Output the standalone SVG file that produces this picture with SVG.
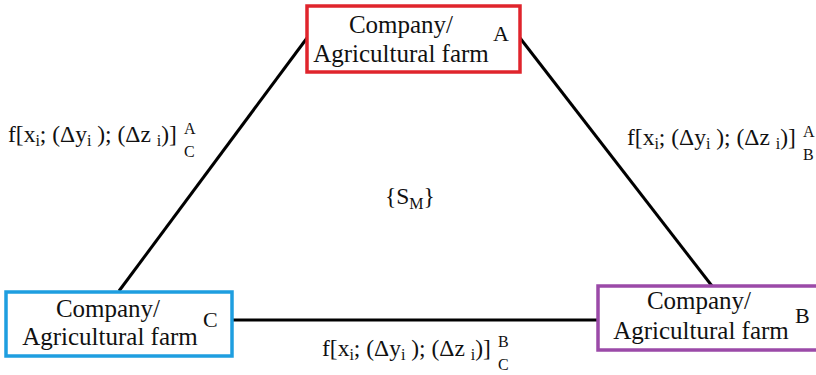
<svg xmlns="http://www.w3.org/2000/svg" width="816" height="375" viewBox="0 0 816 375">
<style>
text{fill:#111}
.n{font-size:25px}
.l{font-size:23.5px}
.lt{font-size:22px}
.s{font-size:16px}
.box{fill:#fff;stroke-width:3.5}
.e{stroke:#000;stroke-width:3;fill:none}
</style>
<rect width="816" height="375" fill="#fff"/>
<g id="connectors">
<line class="e" x1="307" y1="38" x2="119" y2="291"/>
<line class="e" x1="520" y1="38" x2="712" y2="286"/>
<line class="e" x1="232" y1="320" x2="598" y2="320"/>
</g>
<g font-family="'Times New Roman', 'Liberation Serif', 'DejaVu Serif', 'Noto Serif', serif">
<g id="nodeA">
<rect class="box" x="307" y="6" width="213" height="66" stroke="#e0242c"/>
<text class="n" x="401" y="33" text-anchor="middle">Company/</text>
<text class="n" x="401" y="62" text-anchor="middle">Agricultural farm</text>
<text class="lt" x="493" y="41">A</text>
</g>
<g id="nodeC">
<rect class="box" x="6" y="292" width="226" height="64" stroke="#1e9ee0"/>
<text class="n" x="108" y="317" text-anchor="middle">Company/</text>
<text class="n" x="110" y="345" text-anchor="middle">Agricultural farm</text>
<text class="lt" x="203" y="327">C</text>
</g>
<g id="nodeB">
<rect class="box" x="598" y="286" width="230" height="64" stroke="#9b4aa8"/>
<text class="n" x="699" y="309" text-anchor="middle">Company/</text>
<text class="n" x="701" y="339" text-anchor="middle">Agricultural farm</text>
<text class="lt" x="795" y="323">B</text>
</g>
<g id="labels">
<text class="l" x="8" y="142">f[x<tspan class="s" dy="4">i</tspan><tspan dy="-4">; (Δy</tspan><tspan class="s" dy="4">i</tspan><tspan dy="-4"> ); (Δz </tspan><tspan class="s" dy="4">i</tspan><tspan dy="-4">)]</tspan></text>
<text class="s" x="184" y="134">A</text>
<text class="s" x="184" y="157">C</text>
<text class="l" x="627" y="145">f[x<tspan class="s" dy="4">i</tspan><tspan dy="-4">; (Δy</tspan><tspan class="s" dy="4">i</tspan><tspan dy="-4"> ); (Δz </tspan><tspan class="s" dy="4">i</tspan><tspan dy="-4">)]</tspan></text>
<text class="s" x="803" y="137">A</text>
<text class="s" x="803" y="160">B</text>
<text class="l" x="322" y="356">f[x<tspan class="s" dy="4">i</tspan><tspan dy="-4">; (Δy</tspan><tspan class="s" dy="4">i</tspan><tspan dy="-4"> ); (Δz </tspan><tspan class="s" dy="4">i</tspan><tspan dy="-4">)]</tspan></text>
<text class="s" x="498" y="347">B</text>
<text class="s" x="498" y="370">C</text>
<text class="l" x="385" y="204">{S<tspan class="s" dy="5">M</tspan><tspan dy="-5">}</tspan></text>
</g>
</g>
</svg>
